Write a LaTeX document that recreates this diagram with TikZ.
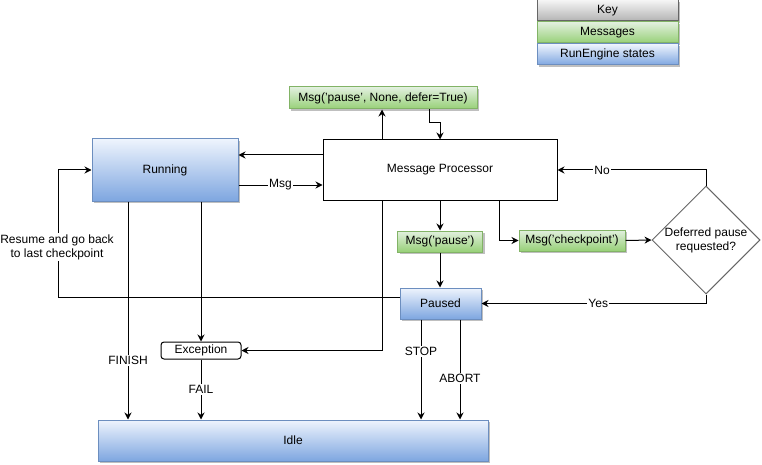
\documentclass[tikz,border=0pt]{standalone}
\usepackage{fontspec}
\setmainfont{Liberation Sans}
\usepackage{tikz}
\usetikzlibrary{arrows.meta,calc,shapes.geometric,shadows}
\definecolor{StateTop}{HTML}{EEF4FD}
\definecolor{StateBottom}{HTML}{7EA6E0}
\definecolor{StateLine}{HTML}{6C8EBF}
\definecolor{MsgTop}{HTML}{E2F0DF}
\definecolor{MsgBottom}{HTML}{97D077}
\definecolor{MsgLine}{HTML}{82B366}
\definecolor{KeyTop}{HTML}{F5F5F5}
\definecolor{KeyBottom}{HTML}{B3B3B3}
\definecolor{KeyLine}{HTML}{666666}
\tikzset{
    boxshadow/.style={drop shadow={shadow xshift=2pt, shadow yshift=-2pt, opacity=0.25, fill=black}},
    state/.style={draw=StateLine, line width=1pt, top color=StateTop, bottom color=StateBottom, boxshadow, inner sep=0pt},
    msgbox/.style={draw=MsgLine, line width=1pt, top color=MsgTop, bottom color=MsgBottom, boxshadow, inner sep=0pt},
    keybox/.style={draw=KeyLine, line width=1pt, top color=KeyTop, bottom color=KeyBottom, boxshadow, inner sep=0pt},
    plainbox/.style={draw, line width=1pt, fill=white, inner sep=0pt},
    decision/.style={diamond, draw=KeyLine, line width=1pt, fill=white, inner sep=0pt, minimum width=108pt, minimum height=108pt},
    arr/.style={draw, line width=1pt, -{Stealth[length=7pt,width=7pt]}},
    lbl/.style={fill=white, inner sep=1pt}
}

\begin{document}
\begin{tikzpicture}[x=1pt, y=-1pt, font=\fontsize{12}{14}\selectfont]
    \useasboundingbox (0,0) rectangle (762,465);
    %%Key
    \node[keybox, minimum width=141pt, minimum height=21pt] (keyhead) at (607.5,10.5) {Key};
    \node[msgbox, minimum width=141pt, minimum height=21pt] (keymsg) at (607.5,32.5) {Messages};
    \node[state, minimum width=141pt, minimum height=21pt] (keystate) at (607.5,54.5) {RunEngine states};
    %%States and messages
    \node[msgbox, minimum width=188pt, minimum height=22pt] (deferMsg) at (383,98) {Msg('pause', None, defer=True)};
    \node[state, minimum width=146pt, minimum height=62pt] (running) at (165,170) {Running};
    \node[plainbox, minimum width=234pt, minimum height=60pt] (proc) at (440,170) {Message Processor};
    \node[msgbox, minimum width=85pt, minimum height=21pt] (pauseMsg) at (440,241.5) {Msg('pause')};
    \node[msgbox, minimum width=106pt, minimum height=21pt] (ckptMsg) at (572,240.5) {Msg('checkpoint')};
    \node[decision] (decide) at (706,240) {};
    \node[align=center] (decidetext) at (decide.center) {Deferred pause\\requested?};
    \node[state, minimum width=81pt, minimum height=31pt] (paused) at (440.5,303.5) {Paused};
    \node[plainbox, rounded corners=3pt, minimum width=80pt, minimum height=17pt] (exc) at (201,350.5) {Exception};
    \node[state, minimum width=390pt, minimum height=41pt] (idle) at (293,440.5) {Idle};
    %%Connectors
    \draw[arr] (proc.west |- 0,155) -- (running.east |- 0,155);
    \draw[arr] (running.east |- 0,185) -- node[lbl]{Msg} (proc.west |- 0,185);
    \draw[arr] (proc.north -| 382,0) -- (deferMsg.south -| 382,0);
    \draw[arr] (deferMsg.south -| 429,0) -- (429,123) -| (proc.north);
    \draw[arr] (proc.south -| 382,0) |- (exc.east);
    \draw[arr] (running.south -| exc.north) -- (exc.north);
    \draw[arr] (running.south -| 128,0) -- node[lbl, pos=0.73]{FINISH} (idle.north -| 128,0);
    \draw[arr] (exc.south) -- node[lbl]{FAIL} (idle.north -| exc.south);
    \draw[arr] (proc.south) -- (pauseMsg.north);
    \draw[arr] (pauseMsg.south) -- (paused.north -| pauseMsg.south);
    \draw[arr] (proc.south -| 499,0) |- (ckptMsg.west);
    \draw[arr] (ckptMsg.east) -- (decide.west);
    \draw[arr] (decide.north) |- node[lbl, pos=0.85]{No} (proc.east);
    \draw[arr] (decide.south) |- node[lbl, pos=0.74]{Yes} (paused.east);
    \draw[arr] (paused.west |- 0,297) -| (58,170) -- (running.west);
    \node[lbl, align=center] (resume) at (57,247) {Resume and go back\\to last checkpoint};
    \draw[arr] (paused.south -| 421,0) -- node[lbl, pos=0.32]{STOP} (idle.north -| 421,0);
    \draw[arr] (paused.south -| 460,0) -- node[lbl, pos=0.59]{ABORT} (idle.north -| 460,0);
\end{tikzpicture}
\end{document}
